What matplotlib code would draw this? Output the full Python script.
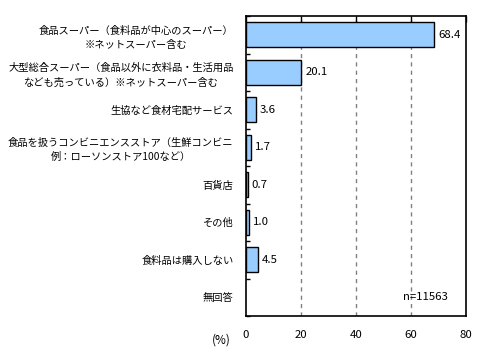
import matplotlib
matplotlib.use("Agg")
import matplotlib.pyplot as plt
import numpy as np

plt.rcParams['font.family'] = ['Noto Sans CJK JP', 'DejaVu Sans']

categories = [
    "食品スーパー（食料品が中心のスーパー）\n※ネットスーパー含む",
    "大型総合スーパー（食品以外に衣料品・生活用品\nなども売っている）※ネットスーパー含む",
    "生協など食材宅配サービス",
    "食品を扱うコンビニエンスストア（生鮮コンビニ\n例：ローソンストア100など）",
    "百貨店",
    "その他",
    "食料品は購入しない",
    "無回答",
]
values = [68.4, 20.1, 3.6, 1.7, 0.7, 1.0, 4.5, None]
xticks = [0, 20, 40, 60, 80]
n_label = "n=11563"

fig = plt.figure(figsize=(4.87, 3.61), dpi=100)
ax = fig.add_axes([246/487, 45/361, 220/487, 300/361])

y = np.arange(len(categories))
for yi, v in zip(y, values):
    if v is None:
        continue
    ax.barh(yi, v, height=0.66, color="#99CCFF", edgecolor="black", linewidth=1.0, zorder=3)
    ax.text(v + 1.4, yi, f"{v:.1f}", va="center", ha="left", fontsize=8.2, zorder=4)

ax.set_xlim(0, 80)
ax.set_ylim(len(categories) - 0.5, -0.5)
ax.set_xticks(xticks)
ax.set_xticklabels([str(t) for t in xticks], fontsize=8.2)
ax.tick_params(axis='x', bottom=False, top=True, direction='in', length=4, width=1, pad=10,
               labelbottom=True, labeltop=False)
ax.set_yticks(y)
ax.set_yticklabels(categories, fontsize=7.4, multialignment='center', linespacing=1.5)
ax.tick_params(axis='y', which='major', length=0, pad=9)
ax.set_yticks(np.arange(len(categories) + 1) - 0.5, minor=True)
ax.tick_params(axis='y', which='minor', direction='in', length=3, width=1, left=True)

for gx in xticks[1:-1]:
    ax.axvline(gx, color="#808080", linestyle=(0, (3, 3)), linewidth=1, zorder=1)

for s in ax.spines.values():
    s.set_linewidth(1.2)
    s.set_color("black")

ax.text(57.1, 7, n_label, va="center", ha="left", fontsize=8.2)
fig.text(221/487, 1 - 340/361, "(%)", ha="center", va="center", fontsize=8.5)

fig.savefig("out.png", dpi=100)
